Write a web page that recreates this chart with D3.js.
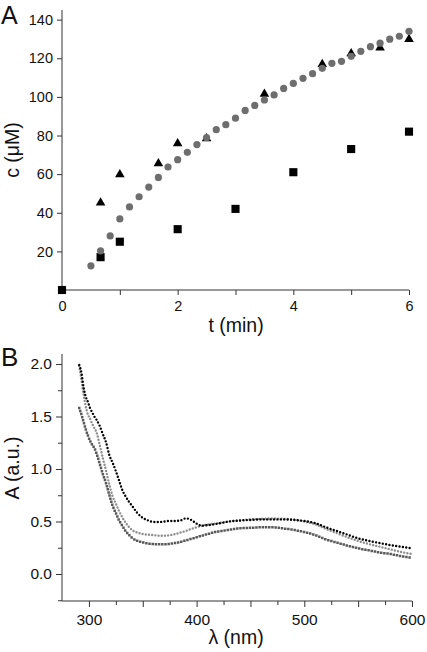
<!DOCTYPE html>
<html><head><meta charset="utf-8">
<script src="https://cdn.jsdelivr.net/npm/d3@7"></script>
<style>body{margin:0;background:#fff}svg{display:block;font-family:"Liberation Sans",Arial,sans-serif}</style>
</head><body>
<script>
// ---- Panel A data ----
const squareT = [0, 0.667, 1, 2, 3, 4, 5, 6];
const squareC = [0, 17, 25, 31.5, 42, 61, 73, 82];
const triT = [0.667, 1, 1.667, 2, 2.5, 3.5, 4.5, 5, 5.5, 6];
const triC = [45.7, 60.3, 66, 76.4, 79, 102, 117.4, 123, 126, 130.4];
const circT = [0.5,0.667,0.833,1,1.167,1.333,1.5,1.667,1.833,2,2.167,2.333,2.5,2.667,2.833,3,3.167,3.333,3.5,3.667,3.833,4,4.167,4.333,4.5,4.667,4.833,5,5.167,5.333,5.5,5.667,5.833,6];
const circC = [12.5,20.3,28,36.8,43,48.3,53.3,58.3,63.7,67.5,71.3,75.3,78.9,83,85.6,89,93,95.6,98.4,101,104.4,107,109.6,112,114.8,117.4,118.4,121,123.6,126,127.8,129.9,131.4,134];
const aYTicks = [20, 40, 60, 80, 100, 120, 140];
const aXTicks = [1, 2, 3, 4, 5, 6];
const aXLabels = [0, 2, 4, 6];

// ---- Panel B data ----
const lambda = [291,293,295,297,299,301,303,305,307,310,313,316,319,322,325,328,331,334,337,340,345,350,355,360,365,370,375,380,385,390,395,400,405,410,420,430,440,450,460,470,480,490,500,510,520,530,540,550,560,570,580,590,600];
const absBlack = [1.99,1.92,1.78,1.69,1.64,1.58,1.54,1.50,1.47,1.41,1.33,1.25,1.13,1.06,0.98,0.89,0.80,0.74,0.69,0.65,0.58,0.535,0.51,0.495,0.495,0.50,0.505,0.505,0.51,0.53,0.515,0.48,0.46,0.465,0.48,0.50,0.51,0.515,0.52,0.52,0.52,0.515,0.505,0.485,0.445,0.41,0.375,0.34,0.315,0.295,0.275,0.26,0.245];
const absTri = [1.98,1.85,1.71,1.60,1.52,1.48,1.43,1.39,1.35,1.23,1.10,0.98,0.85,0.74,0.67,0.60,0.54,0.49,0.45,0.42,0.395,0.38,0.375,0.37,0.365,0.365,0.37,0.38,0.395,0.41,0.43,0.445,0.46,0.47,0.485,0.50,0.51,0.52,0.525,0.53,0.525,0.52,0.50,0.475,0.43,0.39,0.35,0.315,0.285,0.26,0.235,0.21,0.19];
const absSq = [1.58,1.52,1.45,1.38,1.32,1.27,1.23,1.20,1.15,1.05,0.95,0.86,0.75,0.65,0.58,0.51,0.46,0.41,0.375,0.345,0.315,0.30,0.29,0.285,0.283,0.283,0.287,0.295,0.305,0.32,0.335,0.35,0.365,0.38,0.405,0.42,0.435,0.44,0.445,0.445,0.435,0.42,0.40,0.37,0.33,0.30,0.27,0.245,0.225,0.205,0.19,0.17,0.155];
const bYMajor = [0, 0.5, 1, 1.5, 2];
const bYMinor = [-0.25, 0.25, 0.75, 1.25, 1.75];
const bXMajor = [300, 350, 400, 450, 500, 550, 600];
const bXMinor = [325, 375, 425, 475, 525, 575];
const bXLabels = [300, 400, 500, 600];

const W = 427, H = 652;
const svg = d3.select("body").append("svg").attr("width", W).attr("height", H);
const axisColor = "#333";

function styleAxis(g, fs) {
  g.select(".domain").remove();
  g.selectAll(".tick line").attr("stroke", axisColor);
  g.selectAll(".tick text").attr("fill", "#111").attr("font-size", fs).attr("font-family", '"Liberation Sans", Arial, sans-serif');
}

// ---------- Panel A ----------
const xA = d3.scaleLinear().domain([0, 6]).range([62, 409]);
const yA = d3.scaleLinear().domain([0, 145]).range([290, 10]);
const gA = svg.append("g");
gA.append("line").attr("x1", xA(0)).attr("x2", xA(0)).attr("y1", yA(0)).attr("y2", yA(145)).attr("stroke", axisColor);
gA.append("line").attr("x1", xA(0)).attr("x2", xA(6)).attr("y1", yA(0)).attr("y2", yA(0)).attr("stroke", axisColor);
gA.append("g").attr("transform", `translate(${xA(0)},0)`)
  .call(d3.axisLeft(yA).tickValues(aYTicks).tickSize(5).tickPadding(4))
  .call(g => styleAxis(g, "14.5px"));
gA.append("g").attr("transform", `translate(0,${yA(0)})`)
  .call(d3.axisBottom(xA).tickValues(aXTicks).tickSize(5).tickFormat(""))
  .call(g => styleAxis(g, "14.5px"));
gA.append("g").attr("transform", `translate(0,${yA(0)})`)
  .call(d3.axisBottom(xA).tickValues(aXLabels).tickSize(0).tickPadding(11).tickFormat(d3.format("d")))
  .call(g => styleAxis(g, "14.5px"));

const sqSym = d3.symbol().type(d3.symbolSquare).size(66);
const triSym = d3.symbol().type(d3.symbolTriangle).size(40);
gA.append("g").selectAll("path").data(squareT).join("path")
  .attr("d", sqSym).attr("fill", "#000")
  .attr("transform", (d, i) => `translate(${xA(d)},${yA(squareC[i])})`);
gA.append("g").selectAll("path").data(triT).join("path")
  .attr("d", triSym).attr("fill", "#000")
  .attr("transform", (d, i) => `translate(${xA(d)},${yA(triC[i]) + 1})`);
gA.append("g").selectAll("circle").data(circT).join("circle")
  .attr("cx", d => xA(d)).attr("cy", (d, i) => yA(circC[i])).attr("r", 3.6).attr("fill", "#6e6e6e");

gA.append("text").attr("x", 1).attr("y", 24).attr("font-size", 25).attr("fill", "#111").text("A");
gA.append("text").attr("transform", `translate(19,150) rotate(-90)`).attr("text-anchor", "middle")
  .attr("font-size", 19.5).attr("fill", "#111").text("c (μM)");
gA.append("text").attr("x", 236).attr("y", 332).attr("text-anchor", "middle")
  .attr("font-size", 19.5).attr("fill", "#111").text("t (min)");

// ---------- Panel B ----------
const xB = d3.scaleLinear().domain([275, 600]).range([62, 412]);
const yB = d3.scaleLinear().domain([-0.257, 2.095]).range([601, 354]);
const gB = svg.append("g");
gB.append("line").attr("x1", xB(275)).attr("x2", xB(275)).attr("y1", yB(-0.257)).attr("y2", yB(2.095)).attr("stroke", axisColor);
gB.append("line").attr("x1", xB(275)).attr("x2", xB(600)).attr("y1", yB(-0.257)).attr("y2", yB(-0.257)).attr("stroke", axisColor);
gB.append("g").attr("transform", `translate(${xB(275)},0)`)
  .call(d3.axisLeft(yB).tickValues(bYMajor).tickSize(6).tickPadding(4).tickFormat(d3.format(".1f")))
  .call(g => styleAxis(g, "15.5px"));
gB.append("g").attr("transform", `translate(${xB(275)},0)`)
  .call(d3.axisLeft(yB).tickValues(bYMinor).tickSize(4).tickFormat(""))
  .call(g => styleAxis(g, "15.5px"));
gB.append("g").attr("transform", `translate(0,${yB(-0.257)})`)
  .call(d3.axisBottom(xB).tickValues(bXMajor).tickSize(6).tickFormat(""))
  .call(g => styleAxis(g, "15.5px"));
gB.append("g").attr("transform", `translate(0,${yB(-0.257)})`)
  .call(d3.axisBottom(xB).tickValues(bXMinor).tickSize(4).tickFormat(""))
  .call(g => styleAxis(g, "15.5px"));
gB.append("g").attr("transform", `translate(0,${yB(-0.257)})`)
  .call(d3.axisBottom(xB).tickValues(bXLabels).tickSize(0).tickPadding(13).tickFormat(d3.format("d")))
  .call(g => styleAxis(g, "15.5px"));

const line = d3.line().x(d => xB(d[0])).y(d => yB(d[1])).curve(d3.curveMonotoneX);
const series = [
  {vals: absSq, color: "#5a5a5a", dash: "0 3.2", w: 2.5, cap: "square"},
  {vals: absTri, color: "#8c8c8c", dash: "0 3.2", w: 2.4, cap: "round"},
  {vals: absBlack, color: "#000", dash: "0 3.4", w: 2.4, cap: "round"}
];
series.forEach(s => {
  gB.append("path").datum(lambda.map((l, i) => [l, s.vals[i]]))
    .attr("d", line).attr("fill", "none").attr("stroke", s.color)
    .attr("stroke-width", s.w).attr("stroke-dasharray", s.dash).attr("stroke-linecap", s.cap);
});

gB.append("text").attr("x", 1).attr("y", 366).attr("font-size", 26).attr("fill", "#111").text("B");
gB.append("text").attr("transform", `translate(19,468) rotate(-90)`).attr("text-anchor", "middle")
  .attr("font-size", 19.5).attr("fill", "#111").text("A (a.u.)");
gB.append("text").attr("x", 236).attr("y", 644).attr("text-anchor", "middle")
  .attr("font-size", 19.5).attr("fill", "#111").text("λ (nm)");
</script>
</body></html>
